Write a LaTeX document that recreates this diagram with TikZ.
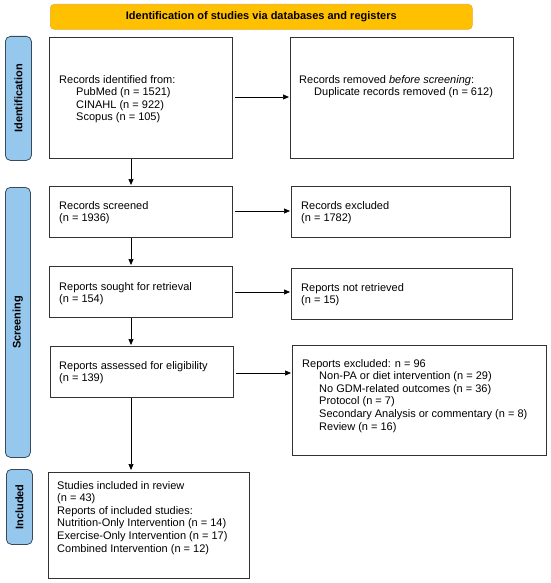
\documentclass[tikz,border=0pt]{standalone}
\usepackage{fontspec}
\setmainfont{Liberation Sans}
\usetikzlibrary{arrows.meta,calc}
\definecolor{bannerfill}{RGB}{255,192,0}
\definecolor{bannerdraw}{RGB}{235,170,40}
\definecolor{sidefill}{RGB}{150,200,238}
\definecolor{sidedraw}{RGB}{55,75,95}
\definecolor{boxdraw}{RGB}{50,50,50}
\tikzset{
  box/.style={draw=boxdraw, line width=0.8pt, rectangle, inner sep=0pt, anchor=north west},
  txt/.style={inner sep=0pt, anchor=north west, align=left, font=\fontsize{11}{12.6}\selectfont},
  banner/.style={draw=bannerdraw, fill=bannerfill, line width=0.6pt, rounded corners=4pt, inner sep=0pt, anchor=north west, font=\bfseries\fontsize{11}{13}\selectfont},
  side/.style={draw=sidedraw, fill=sidefill, line width=0.8pt, rounded corners=5pt, inner sep=0pt, anchor=north west},
  sidetxt/.style={rotate=90, inner sep=0pt, font=\bfseries\fontsize{11}{13}\selectfont},
  arr/.style={-{Triangle[length=6pt,width=5pt]}, line width=0.7pt, black},
}
\newcommand{\ind}[1]{\hspace*{#1pt}}
\begin{document}
\begin{tikzpicture}[x=1pt,y=-1pt]
\useasboundingbox (0,0) rectangle (550,583);
% banner
\node[banner, minimum width=422pt, minimum height=25pt] (ban) at (50,4) {};
\node[font=\bfseries\fontsize{11}{13}\selectfont, inner sep=0pt] (bant) at (ban.center) {Identification of studies via databases and registers};
% side labels
\node[side, minimum width=26pt, minimum height=124pt] (s1) at (5,36) {};
\node[sidetxt] (s1t) at (s1.center) {Identification};
\node[side, minimum width=25pt, minimum height=270pt] (s2) at (5,187) {};
\node[sidetxt] (s2t) at (s2.center) {Screening};
\node[side, minimum width=26pt, minimum height=75pt] (s3) at (6,469) {};
\node[sidetxt] (s3t) at (s3.center) {Included};
% boxes
\node[box, minimum width=183pt, minimum height=121pt] (b1) at (49,37) {};
\node[txt] (t1) at (59,75) {Records identified from:\\\ind{17}PubMed (n = 1521)\\\ind{17}CINAHL (n = 922)\\\ind{17}Scopus (n = 105)};
\node[box, minimum width=223pt, minimum height=121pt] (b2) at (290,37) {};
\node[txt] (t2) at (299,75) {Records removed \textit{before screening}:\\\ind{15}Duplicate records removed (n = 612)};
\node[box, minimum width=183pt, minimum height=51pt] (b3) at (49,186) {};
\node[txt] (t3) at (59,201) {Records screened\\(n = 1936)};
\node[box, minimum width=219pt, minimum height=51pt] (b4) at (291,186) {};
\node[txt] (t4) at (301,201) {Records excluded\\(n = 1782)};
\node[box, minimum width=183pt, minimum height=51pt] (b5) at (49,266) {};
\node[txt] (t5) at (59,282) {Reports sought for retrieval\\(n = 154)};
\node[box, minimum width=221pt, minimum height=51pt] (b6) at (291,268) {};
\node[txt] (t6) at (301,283) {Reports not retrieved\\(n = 15)};
\node[box, minimum width=183pt, minimum height=51pt] (b7) at (50,346) {};
\node[txt] (t7) at (59,361) {Reports assessed for eligibility\\(n = 139)};
\node[box, minimum width=254pt, minimum height=110pt] (b8) at (292,345) {};
\node[txt] (t8) at (302,359) {Reports excluded: n = 96\\\ind{17}Non-PA or diet intervention (n = 29)\\\ind{17}No GDM-related outcomes (n = 36)\\\ind{17}Protocol (n = 7)\\\ind{17}Secondary Analysis or commentary (n = 8)\\\ind{17}Review (n = 16)};
\node[box, minimum width=201pt, minimum height=106pt] (b9) at (48,472) {};
\node[txt] (t9) at (57,481) {Studies included in review\\(n = 43)\\Reports of included studies:\\Nutrition-Only Intervention (n = 14)\\Exercise-Only Intervention (n = 17)\\Combined Intervention (n = 12)};
% connectors
\coordinate (vx) at (131,0);
\coordinate (h1) at (0,97);
\coordinate (h2) at (0,211);
\coordinate (h3) at (0,292);
\coordinate (h4) at (0,373);
\draw[arr, shorten <=2pt, shorten >=1pt] (b1.east |- h1) -- (b2.west |- h1);
\draw[arr, shorten <=2pt, shorten >=1pt] (b3.east |- h2) -- (b4.west |- h2);
\draw[arr, shorten <=2pt, shorten >=1pt] (b5.east |- h3) -- (b6.west |- h3);
\draw[arr, shorten <=2pt, shorten >=1pt] (b7.east |- h4) -- (b8.west |- h4);
\draw[arr, shorten >=1pt] (b1.south -| vx) -- (b3.north -| vx);
\draw[arr, shorten >=1pt] (b3.south -| vx) -- (b5.north -| vx);
\draw[arr, shorten >=1pt] (b5.south -| vx) -- (b7.north -| vx);
\draw[arr, shorten >=2pt] (b7.south -| vx) -- (b9.north -| vx);
\end{tikzpicture}
\end{document}
